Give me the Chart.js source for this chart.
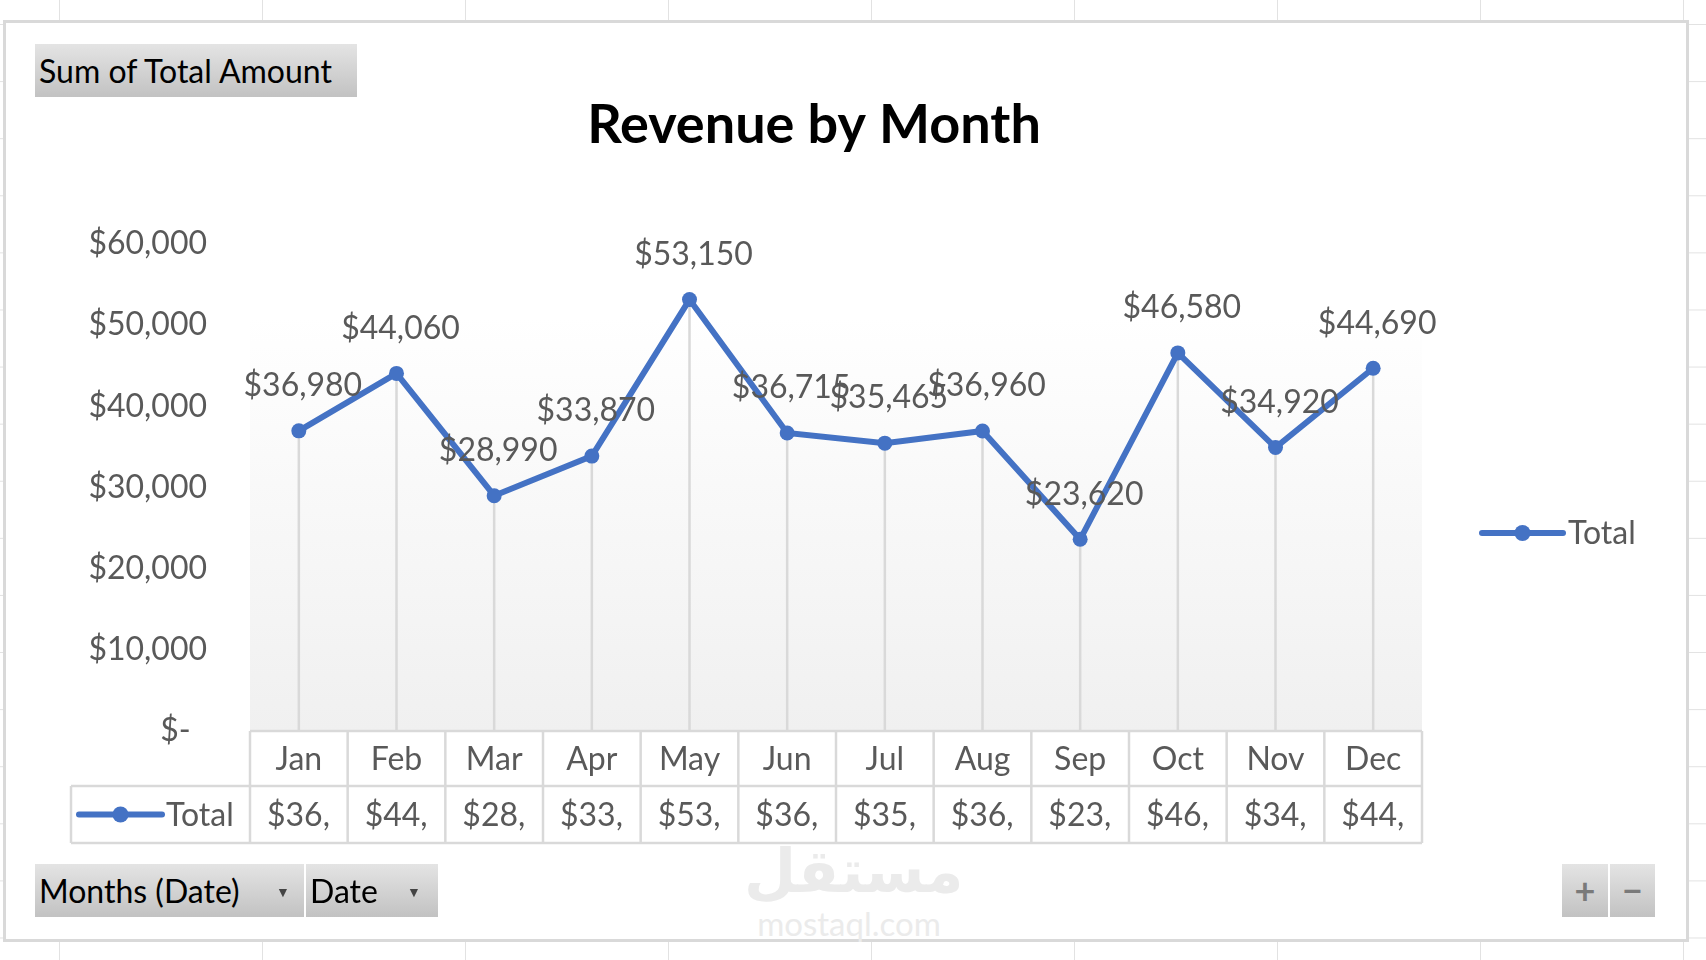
<!DOCTYPE html>
<html>
<head>
<meta charset="utf-8">
<title>Revenue by Month</title>
<script src="https://cdn.jsdelivr.net/npm/chart.js@4.4.1/dist/chart.umd.min.js"></script>
<style>
  html, body { margin: 0; padding: 0; width: 1706px; height: 960px; overflow: hidden; background: #fff; }
  #sheet {
    position: absolute; left: 0; top: 0; width: 1706px; height: 960px;
    background-image:
      linear-gradient(to right, #e2e2e2 1px, transparent 1px),
      linear-gradient(to bottom, #e2e2e2 1px, transparent 1px);
    background-size: 203px 57.1px;
    background-position: 59px 24px;
  }
  #frame {
    position: absolute; left: 3px; top: 20px; width: 1680px; height: 916px;
    border: 3px solid #d9d9d9; background: #fff;
  }
  #chart { position: absolute; left: 0; top: 0; }
  .btn {
    position: absolute; box-sizing: border-box; height: 53px;
    background: linear-gradient(#e4e4e4, #c2c2c2);
    font-family: Lato, "Noto Sans", sans-serif; font-size: 32px; color: #000;
    line-height: 53px; padding-left: 4px; white-space: nowrap;
  }
  .arrow { position: absolute; font-size: 14px; color: #444; top: 1px; }
  .pm { text-align: center; padding-left: 0; color: #7a7a7a; font-weight: bold; font-size: 36px; }
  .wm { position: absolute; color: #ebebeb; text-align: center; white-space: nowrap; }
</style>
</head>
<body>
<div id="sheet"></div>
<div id="frame"></div>
<div class="wm" style="left:744px; top:836px; width:210px; font-family:'DejaVu Sans'; font-weight:bold; font-size:60px; line-height:70px;">مستقل</div>
<div class="wm" style="left:729px; top:903px; width:240px; font-family:Lato, sans-serif; font-size:33px; line-height:40px;">mostaql.com</div>
<canvas id="chart" width="1706" height="960"></canvas>
<div class="btn" style="left:35px; top:44px; width:322px;">Sum of Total Amount</div>
<div class="btn" style="left:35px; top:864px; width:269px;">Months (Date)<span class="arrow" style="left:241px;">&#9660;</span></div>
<div class="btn" style="left:306px; top:864px; width:132px;">Date<span class="arrow" style="left:101px;">&#9660;</span></div>
<div class="btn pm" style="left:1562px; top:864px; width:46px;">+</div>
<div class="btn pm" style="left:1610px; top:864px; width:45px;">&minus;</div>
<script>
(function () {
  "use strict";

  var months = ["Jan", "Feb", "Mar", "Apr", "May", "Jun", "Jul", "Aug", "Sep", "Oct", "Nov", "Dec"];
  var totals = [36980, 44060, 28990, 33870, 53150, 36715, 35465, 36960, 23620, 46580, 34920, 44690];
  var seriesName = "Total";
  var yMin = 0;
  var yMax = 60000;
  var yStep = 10000;

  var BLUE = "#4472C4";
  var GREY_TEXT = "#595959";
  var LINE_GREY = "#d9d9d9";
  var FONT = "Lato, 'Noto Sans', sans-serif";

  function money(v) {
    if (v === 0) return "$-  ";
    return "$" + v.toLocaleString("en-US");
  }

  function legendKey(ctx, x1, x2, y) {
    ctx.save();
    ctx.strokeStyle = BLUE;
    ctx.lineWidth = 6;
    ctx.lineCap = "round";
    ctx.beginPath();
    ctx.moveTo(x1, y);
    ctx.lineTo(x2, y);
    ctx.stroke();
    ctx.fillStyle = BLUE;
    ctx.beginPath();
    ctx.arc((x1 + x2) / 2, y, 8, 0, Math.PI * 2);
    ctx.fill();
    ctx.restore();
  }

  // plot area fill
  var plotBg = {
    id: "plotBg",
    beforeDraw: function (chart) {
      var a = chart.chartArea;
      var ctx = chart.ctx;
      var g = ctx.createLinearGradient(0, a.top, 0, a.bottom);
      g.addColorStop(0, "#ffffff");
      g.addColorStop(0.15, "#ffffff");
      g.addColorStop(1, "#f0f0f0");
      ctx.save();
      ctx.fillStyle = g;
      ctx.fillRect(a.left, a.top, a.right - a.left, a.bottom - a.top);
      ctx.restore();
    }
  };

  // drop lines from each point to the axis
  var dropLines = {
    id: "dropLines",
    beforeDatasetsDraw: function (chart) {
      var ctx = chart.ctx;
      var pts = chart.getDatasetMeta(0).data;
      ctx.save();
      ctx.strokeStyle = LINE_GREY;
      ctx.lineWidth = 2.5;
      pts.forEach(function (p) {
        ctx.beginPath();
        ctx.moveTo(p.x, p.y);
        ctx.lineTo(p.x, chart.chartArea.bottom);
        ctx.stroke();
      });
      ctx.restore();
    }
  };

  // data labels above points
  var pointLabels = {
    id: "pointLabels",
    afterDatasetsDraw: function (chart) {
      var ctx = chart.ctx;
      var pts = chart.getDatasetMeta(0).data;
      ctx.save();
      ctx.font = "32px " + FONT;
      ctx.fillStyle = GREY_TEXT;
      ctx.textAlign = "center";
      ctx.textBaseline = "middle";
      pts.forEach(function (p, i) {
        ctx.fillText(money(totals[i]), p.x + 4, p.y - 45);
      });
      ctx.restore();
    }
  };

  // title, data table and legend
  var extras = {
    id: "extras",
    afterDraw: function (chart) {
      var ctx = chart.ctx;
      var a = chart.chartArea;
      var xs = chart.scales.x;
      var step = xs.getPixelForTick(1) - xs.getPixelForTick(0);
      var top = a.bottom;
      var mid = top + 55;
      var bot = mid + 57;
      var keyLeft = 71;

      ctx.save();
      ctx.font = "bold 54px " + FONT;
      ctx.fillStyle = "#000";
      ctx.textAlign = "center";
      ctx.textBaseline = "middle";
      ctx.fillText("Revenue by Month", 814, 126);

      // table grid
      ctx.strokeStyle = LINE_GREY;
      ctx.lineWidth = 2.5;
      ctx.beginPath();
      ctx.moveTo(a.left, top); ctx.lineTo(a.right, top);
      ctx.moveTo(keyLeft, mid); ctx.lineTo(a.right, mid);
      ctx.moveTo(keyLeft, bot); ctx.lineTo(a.right, bot);
      ctx.moveTo(keyLeft, mid); ctx.lineTo(keyLeft, bot);
      for (var i = 0; i <= months.length; i++) {
        var bx = xs.getPixelForTick(0) - step / 2 + i * step;
        ctx.moveTo(bx, top); ctx.lineTo(bx, bot);
      }
      ctx.stroke();

      ctx.font = "32px " + FONT;
      ctx.fillStyle = GREY_TEXT;
      ctx.textBaseline = "middle";
      months.forEach(function (m, i) {
        var cx = xs.getPixelForTick(i);
        ctx.textAlign = "center";
        ctx.fillText(m, cx, (top + mid) / 2 + 1);
        // value clipped the way Excel does in a narrow cell
        var full = money(totals[i]);
        var room = step - 29;
        var s = full;
        while (s.length > 1 && ctx.measureText(s).width > room) s = s.slice(0, -1);
        ctx.textAlign = "left";
        ctx.fillText(s, cx - step / 2 + 17, (mid + bot) / 2 + 1);
      });

      // legend key inside table
      legendKey(ctx, 79, 162, (mid + bot) / 2);
      ctx.textAlign = "left";
      ctx.fillText(seriesName, 166, (mid + bot) / 2 + 1);

      // right legend
      legendKey(ctx, 1482, 1563, 533);
      ctx.fillText(seriesName, 1568, 534);
      ctx.restore();
    }
  };

  new Chart(document.getElementById("chart"), {
    type: "line",
    data: {
      labels: months,
      datasets: [
        {
          label: seriesName,
          data: totals,
          borderColor: BLUE,
          backgroundColor: BLUE,
          borderWidth: 6,
          pointRadius: 7.5,
          pointBackgroundColor: BLUE,
          pointBorderWidth: 0,
          tension: 0,
          fill: false
        }
      ]
    },
    options: {
      responsive: false,
      animation: false,
      layout: { padding: { left: 0, top: 244, right: 284, bottom: 229 } },
      scales: {
        x: {
          type: "category",
          offset: true,
          grid: { display: false },
          border: { display: false },
          ticks: { display: false },
          afterFit: function (s) { s.height = 0; }
        },
        y: {
          min: yMin,
          max: yMax,
          grid: { display: false },
          border: { display: false },
          ticks: {
            stepSize: yStep,
            padding: 35,
            color: GREY_TEXT,
            font: { family: FONT, size: 32 },
            callback: function (v) { return money(v); }
          },
          afterFit: function (s) { s.width = 250; }
        }
      },
      plugins: {
        legend: { display: false },
        title: { display: false },
        tooltip: { enabled: false }
      }
    },
    plugins: [plotBg, dropLines, pointLabels, extras]
  });
})();
</script>
</body>
</html>
